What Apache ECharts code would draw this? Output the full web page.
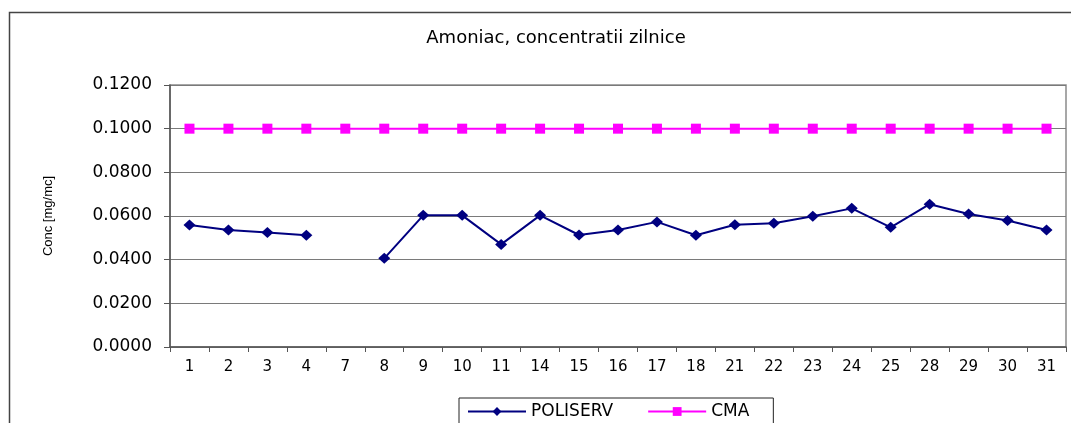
<!DOCTYPE html>
<html>
<head>
<meta charset="utf-8">
<script src="https://cdn.jsdelivr.net/npm/echarts@6/dist/echarts.min.js"></script>
<style>html,body{margin:0;padding:0;background:#fff;}#c{width:1071px;height:423px;}</style>
</head>
<body>
<div id="c"></div>
<script>
var categories = ['1','2','3','4','7','8','9','10','11','14','15','16','17','18','21','22','23','24','25','28','29','30','31'];
var poliserv = [0.0559,0.0536,0.0524,0.0512,null,0.0406,0.0603,0.0603,0.0470,0.0603,0.0513,0.0536,0.0573,0.0512,0.0560,0.0567,0.0599,0.0635,0.0548,0.0654,0.0609,0.0579,0.0536];
var cma = [0.1,0.1,0.1,0.1,0.1,0.1,0.1,0.1,0.1,0.1,0.1,0.1,0.1,0.1,0.1,0.1,0.1,0.1,0.1,0.1,0.1,0.1,0.1];
var yTicks = {min: 0, max: 0.12, interval: 0.02};

var chart = echarts.init(document.getElementById('c'));
chart.setOption({
  animation: false,
  backgroundColor: '#fff',
  graphic: [{
    type: 'rect', z: -10, silent: true,
    shape: {x: 9.5, y: 12.5, width: 1100, height: 500},
    style: {fill: 'none', stroke: '#444', lineWidth: 1.5}
  }],
  title: {
    text: 'Amoniac, concentratii zilnice',
    left: 551, top: 24, textAlign: 'center',
    textStyle: {fontFamily: 'DejaVu Sans', fontSize: 18, fontWeight: 'normal', color: '#000'}
  },
  grid: {left: 170, right: 5, top: 85, bottom: 76, show: true, borderColor: '#8a8a8a', borderWidth: 1.5},
  legend: {
    left: 459, top: 398,
    padding: [5, 24, 8, 8],
    borderColor: '#222', borderWidth: 1,
    itemWidth: 58, itemHeight: 11, itemGap: 34,
    textStyle: {fontFamily: 'DejaVu Sans', fontSize: 17, color: '#000'},
    data: ['POLISERV', 'CMA']
  },
  xAxis: {
    type: 'category',
    data: categories,
    boundaryGap: true,
    axisLine: {lineStyle: {color: '#555', width: 1.5}},
    axisTick: {show: true, length: 5, alignWithLabel: false, lineStyle: {color: '#555'}},
    axisLabel: {margin: 13, fontFamily: 'DejaVu Sans', fontSize: 15, color: '#000', interval: 0}
  },
  yAxis: {
    type: 'value',
    min: yTicks.min, max: yTicks.max, interval: yTicks.interval,
    name: 'Conc [mg/mc]',
    nameLocation: 'middle', nameGap: 115, nameRotate: 90,
    nameTextStyle: {fontFamily: 'Liberation Sans', fontSize: 13, color: '#000'},
    axisLine: {show: true, lineStyle: {color: '#555', width: 1.5}},
    axisTick: {show: true, length: 6, inside: false, lineStyle: {color: '#555'}},
    axisLabel: {margin: 18, fontFamily: 'DejaVu Sans', fontSize: 17, color: '#000', formatter: function (v) { return v.toFixed(4); }},
    splitLine: {lineStyle: {color: '#7a7a7a', width: 1.2}}
  },
  series: [
    {
      name: 'POLISERV', type: 'line', data: poliserv, connectNulls: false,
      symbol: 'diamond', symbolSize: [12, 11],
      itemStyle: {color: '#000080'},
      lineStyle: {color: '#000080', width: 2}
    },
    {
      name: 'CMA', type: 'line', data: cma,
      symbol: 'rect', symbolSize: 10,
      itemStyle: {color: '#FF00FF'},
      lineStyle: {color: '#FF00FF', width: 2}
    }
  ]
});
</script>
</body>
</html>
